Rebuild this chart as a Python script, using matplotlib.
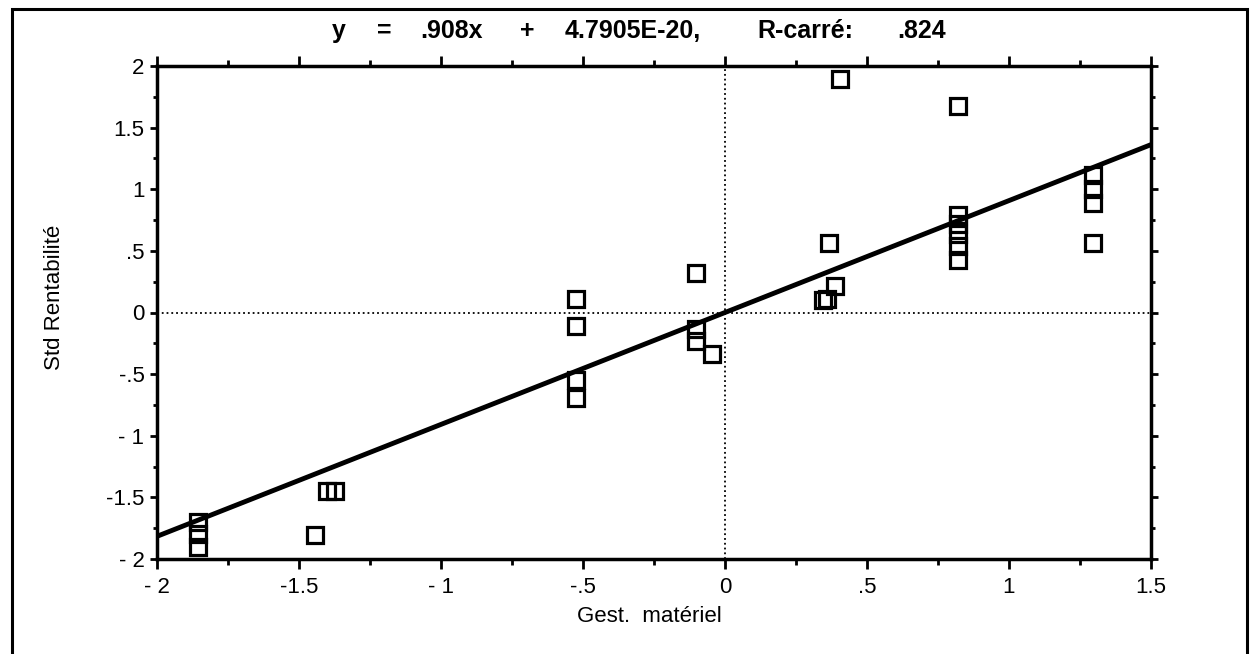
import matplotlib.pyplot as plt
from matplotlib.patches import Rectangle

# Gest. materiel (x) vs Std Rentabilite (y)
gest_materiel = [-1.855, -1.855, -1.855, -1.403, -1.373, -1.444,
                 -0.525, -0.525, -0.525, -0.525,
                 -0.102, -0.103, -0.103, -0.047,
                 0.405, 0.367, 0.387, 0.345, 0.36,
                 0.819, 0.82, 0.82, 0.82, 0.82, 0.82,
                 1.295, 1.295, 1.295, 1.295]
std_rentabilite = [-1.70, -1.80, -1.90, -1.45, -1.45, -1.805,
                   0.107, -0.11, -0.548, -0.694,
                   0.323, -0.13, -0.235, -0.337,
                   1.895, 0.566, 0.215, 0.10, 0.11,
                   1.678, 0.79, 0.72, 0.64, 0.54, 0.43,
                   1.116, 1.0, 0.889, 0.566]

slope = 0.908
intercept = 4.7905e-20

x_ticks = [-2, -1.5, -1, -0.5, 0, 0.5, 1, 1.5]
x_labels = ['- 2', '-1.5', '- 1', '-.5', '0', '.5', '1', '1.5']
y_ticks = [2, 1.5, 1, 0.5, 0, -0.5, -1, -1.5, -2]
y_labels = ['2', '1.5', '1', '.5', '0', '-.5', '- 1', '-1.5', '- 2']

# title pieces and their left edge (pixels), the old printout spaced them wide
title_parts = ['y', '=', '.908x', '+', '4.7905E-20,', 'R-carré:', '.824']
title_left = [332, 377, 420, 520, 565, 757, 897]

plt.rcParams['font.family'] = ['Liberation Sans', 'DejaVu Sans']

W, H = 1252, 654
fig = plt.figure(figsize=(W/100, H/100), dpi=100)
ax = fig.add_axes([157/W, 1 - 559/H, (1151-157)/W, (559-66)/H])

# outer frame around the whole figure
fig.patches.append(Rectangle((12/W, -0.02), (1247-12)/W, 1.02 - 9/H,
                             transform=fig.transFigure, fill=False,
                             edgecolor='black', linewidth=2.2))

ax.axhline(0, color='black', linestyle=':', linewidth=1.3, zorder=1)
ax.axvline(0, color='black', linestyle=':', linewidth=1.3, zorder=1)

ax.plot([-2, 1.5], [slope*-2 + intercept, slope*1.5 + intercept],
        color='black', linewidth=3.5, zorder=2)
ax.plot(gest_materiel, std_rentabilite, linestyle='none', marker='s',
        markersize=11, markerfacecolor='none', markeredgecolor='black',
        markeredgewidth=2.3, zorder=3)

ax.set_xlim(-2, 1.5)
ax.set_ylim(-2, 2)
ax.set_xticks(x_ticks)
ax.set_xticklabels(x_labels, fontsize=16)
ax.set_yticks(y_ticks)
ax.set_yticklabels(y_labels, fontsize=16)
ax.set_xticks([-1.75, -1.25, -0.75, -0.25, 0.25, 0.75, 1.25], minor=True)
ax.set_yticks([1.75, 1.25, 0.75, 0.25, -0.25, -0.75, -1.25, -1.75], minor=True)
ax.tick_params(which='both', direction='out', top=True, right=True, width=2)
ax.tick_params(axis='x', which='major', length=7, pad=6)
ax.tick_params(axis='x', which='minor', length=4)
ax.tick_params(axis='y', which='major', length=5, pad=4)
ax.tick_params(axis='y', which='minor', length=3)
for s in ax.spines.values():
    s.set_linewidth(2.5)

ax.set_xlabel('Gest.  matériel', fontsize=16)
ax.set_ylabel('Std Rentabilité', fontsize=16)
ax.xaxis.set_label_coords((649-157)/994, (559-617)/493)
ax.yaxis.set_label_coords((55-157)/994, (559-297)/493)
ax.xaxis.label.set_va('center')
ax.yaxis.label.set_va('center')

for part, left in zip(title_parts, title_left):
    fig.text(left/W, 1 - 38/H, part, ha='left', va='baseline',
             fontsize=18, fontweight='bold')

fig.savefig('out.png', dpi=100)
